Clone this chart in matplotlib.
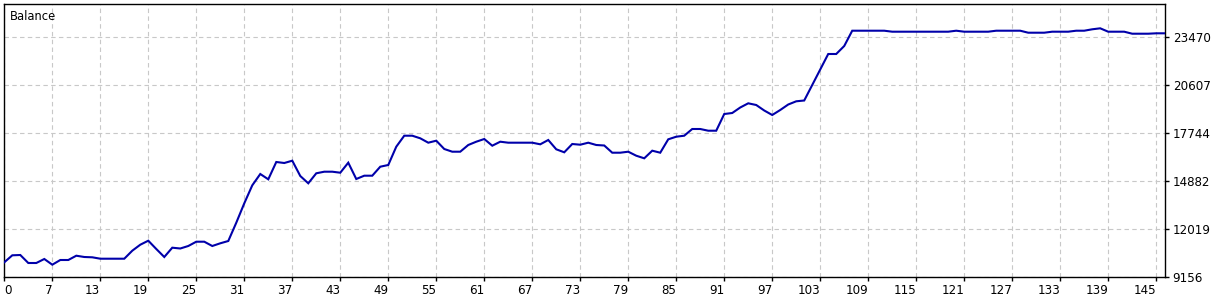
import matplotlib
matplotlib.use('Agg')
import matplotlib.pyplot as plt

# balance after each trade
trades = list(range(1, 147))
balance = [
    10033, 10450, 10468, 9991, 9991, 10230, 9890, 10170, 10170, 10426,
    10349, 10331, 10247, 10247, 10247, 10247, 10725, 11082, 11321, 10826,
    10349, 10904, 10856, 11005, 11261, 11261, 11005, 11166, 11303, 12394,
    13551, 14624, 15299, 14983, 16015, 15955, 16092, 15180, 14744, 15341,
    15436, 15436, 15376, 15973, 15001, 15198, 15198, 15734, 15836, 16927,
    17583, 17583, 17428, 17166, 17285, 16790, 16629, 16629, 17029, 17225,
    17386, 16987, 17225, 17166, 17166, 17166, 17166, 17070, 17327, 16772,
    16593, 17088, 17046, 17166, 17029, 16999, 16569, 16569, 16629, 16390,
    16235, 16689, 16569, 17368, 17523, 17583, 17983, 17983, 17881, 17881,
    18877, 18937, 19265, 19515, 19414, 19086, 18818, 19116, 19444, 19635,
    19683, 20607, 21531, 22456, 22456, 22933, 23845, 23845, 23845, 23845,
    23845, 23786, 23786, 23786, 23786, 23786, 23786, 23786, 23786, 23845,
    23786, 23786, 23786, 23786, 23845, 23845, 23845, 23845, 23726, 23726,
    23726, 23786, 23786, 23786, 23845, 23845, 23929, 23988, 23786, 23786,
    23786, 23666, 23666, 23666, 23690, 23690,
]

x_ticks = [1, 7, 13, 19, 25, 31, 37, 43, 49, 55, 61, 67, 73, 79, 85, 91, 97,
           103, 109, 115, 121, 127, 133, 139, 145]
x_labels = ['0', '7', '13', '19', '25', '31', '37', '43', '49', '55', '61', '67',
            '73', '79', '85', '91', '97', '103', '109', '115', '121', '127',
            '133', '139', '145']
y_ticks = [9156, 12019, 14882, 17744, 20607, 23470]
y_labels = ['9156', '12019', '14882', '17744', '20607', '23470']

W, H = 1230, 300
fig = plt.figure(figsize=(W / 100, H / 100), dpi=100)
fig.patch.set_facecolor('white')
ax = fig.add_axes([4.3 / W, 23 / H, (1165 - 4.3) / W, 273 / H])
ax.set_facecolor('white')

ax.plot(trades, balance, color='#0000AA', lw=1.5, solid_joinstyle='miter', zorder=3)

ax.set_xlim(1, 146.1)
ax.set_ylim(9156, 25438)

ax.set_xticks(x_ticks)
ax.set_xticklabels(x_labels, fontsize=8.6, family='DejaVu Sans')
for i, t in enumerate(ax.get_xticklabels()):
    t.set_ha('left' if i == 0 else 'right')

ax.yaxis.tick_right()
ax.set_yticks(y_ticks)
ax.set_yticklabels(y_labels, fontsize=8.6, family='DejaVu Sans')

ax.tick_params(axis='x', direction='out', length=3, width=1, pad=2, colors='black')
ax.tick_params(axis='y', direction='out', length=3, width=1, pad=2.5, colors='black')

ax.grid(True, color='#c8c8c8', lw=0.8, linestyle=(0, (4, 3)), zorder=1)
ax.set_axisbelow(True)

for s in ax.spines.values():
    s.set_color('black')
    s.set_linewidth(1)

# title in the top-left corner of the plot
ax.text(5.7 / (1165 - 4.3), 1 - 13 / 273, 'Balance',
        transform=ax.transAxes, fontsize=8.3, ha='left', va='center', color='black')

fig.savefig('out.png', dpi=100, facecolor='white')
